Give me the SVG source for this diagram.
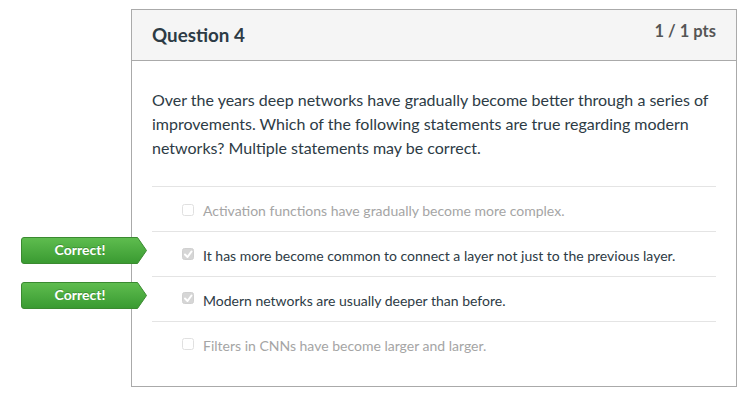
<svg xmlns="http://www.w3.org/2000/svg" width="750" height="409" viewBox="0 0 750 409">
<defs>
<linearGradient id="g" x1="0" y1="0" x2="0" y2="1">
<stop offset="0" stop-color="#5fbd4f"/>
<stop offset="1" stop-color="#399a31"/>
</linearGradient>
<style>
text{font-family:Lato,"Open Sans","Liberation Sans",sans-serif}
.q{font-size:16px;fill:#2d3b45}
.a{font-size:14px;fill:#2d3b45}
.d{fill:#a5a5a5}
.sep{stroke:#e4e4e4;stroke-width:1}
.cb{fill:#fff;stroke:#e0e0e0;stroke-width:1}
.cbk{fill:#d6d6d6;stroke:#d0d0d0;stroke-width:1}
.ck{fill:none;stroke:#fff;stroke-width:2;stroke-linecap:round;stroke-linejoin:round}
.badge{fill:url(#g);stroke:#3a8a30;stroke-width:1}
.bt{font-size:14px;font-weight:bold;fill:#fff;text-anchor:middle}
</style>
</defs>
<rect width="750" height="409" fill="#fff"/>
<g id="card">
<rect x="131.5" y="9.5" width="605" height="377" fill="#fff" stroke="#aaa"/>
<rect x="132" y="10" width="604" height="50.5" fill="#f5f5f5"/>
<line x1="131.5" y1="60.5" x2="736.5" y2="60.5" stroke="#aaa"/>
<text x="152" y="42" style="font-size:18.8px;font-weight:bold;fill:#2d3b45">Question 4</text>
<text x="716" y="37" text-anchor="end" style="font-size:16.5px;font-weight:bold;fill:#555">1 / 1 pts</text>
<text class="q" x="152" y="106">Over the years deep networks have gradually become better through a series of</text>
<text class="q" x="152" y="130">improvements. Which of the following statements are true regarding modern</text>
<text class="q" x="152" y="154">networks? Multiple statements may be correct.</text>
</g>
<g id="connectors">
<line class="sep" x1="152" y1="186.5" x2="716" y2="186.5"/>
<line class="sep" x1="152" y1="231.5" x2="716" y2="231.5"/>
<line class="sep" x1="152" y1="276.5" x2="716" y2="276.5"/>
<line class="sep" x1="152" y1="321.5" x2="716" y2="321.5" stroke="#eee"/>
</g>
<g id="opt1">
<rect class="cb" x="182.5" y="204.5" width="11" height="11" rx="2"/>
<text class="a d" x="203" y="216">Activation functions have gradually become more complex.</text>
</g>
<g id="opt2">
<rect class="cbk" x="182.5" y="248.5" width="11" height="11" rx="2"/>
<path class="ck" d="M185 254.5 L187.5 257 L191.5 251.5"/>
<text class="a" x="203" y="261">It has more become common to connect a layer not just to the previous layer.</text>
</g>
<g id="opt3">
<rect class="cbk" x="182.5" y="292.5" width="11" height="11" rx="2"/>
<path class="ck" d="M185 298.5 L187.5 301 L191.5 295.5"/>
<text class="a" x="203" y="305.5">Modern networks are usually deeper than before.</text>
</g>
<g id="opt4">
<rect class="cb" x="182.5" y="338.5" width="11" height="11" rx="2"/>
<text class="a d" x="203" y="351">Filters in CNNs have become larger and larger.</text>
</g>
<g id="badge1">
<path class="badge" d="M24 237.5 H137.5 L146.5 250.5 L137.5 263.5 H24 Q21.5 263.5 21.5 261 V240 Q21.5 237.5 24 237.5 Z"/>
<text class="bt" x="80" y="254.5" dy="-1" opacity="0.35" style="fill:#1e5a18">Correct!</text>
<text class="bt" x="80" y="254.5">Correct!</text>
</g>
<g id="badge2">
<path class="badge" d="M24 282.5 H137.5 L146.5 295.5 L137.5 308.5 H24 Q21.5 308.5 21.5 306 V285 Q21.5 282.5 24 282.5 Z"/>
<text class="bt" x="80" y="299.5" dy="-1" opacity="0.35" style="fill:#1e5a18">Correct!</text>
<text class="bt" x="80" y="299.5">Correct!</text>
</g>
</svg>
